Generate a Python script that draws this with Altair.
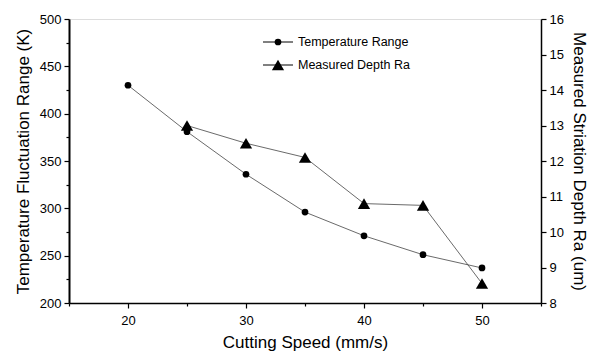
import altair as alt
import pandas as pd

speed = [20, 25, 30, 35, 40, 45, 50]
temp_range = [430, 381, 336, 296, 271, 251, 237]
speed_ra = [25, 30, 35, 40, 45, 50]
depth_ra = [13.0, 12.5, 12.1, 10.8, 10.75, 8.55]
legend_labels = ["Temperature Range", "Measured Depth Ra"]

FONT = "Liberation Sans"
df_t = pd.DataFrame({"speed": speed, "temp": temp_range})
df_r = pd.DataFrame({"speed": speed_ra, "ra": depth_ra})

x_enc = alt.X(
    "speed:Q",
    scale=alt.Scale(domain=[15, 55], nice=False, zero=False),
    axis=alt.Axis(
        title="Cutting Speed (mm/s)", format="d",
        values=list(range(15, 56, 5)),
        labelExpr="datum.value % 10 === 0 ? datum.label : ''",
        tickSize={"condition": {"test": "datum.value % 10 === 0", "value": 5}, "value": 3},
        grid=False, domainColor="black", domainWidth=1.5, tickColor="black", tickWidth=1.2,
        labelFontSize=13, titleFontSize=17, labelFont=FONT, titleFont=FONT,
        labelColor="black", titleColor="black", titleFontWeight="normal", titlePadding=7, labelPadding=6,
    ),
)

y_left = alt.Y(
    "temp:Q",
    scale=alt.Scale(domain=[200, 500], nice=False, zero=False),
    axis=alt.Axis(
        title="Temperature Fluctuation Range (K)", orient="left", format="d",
        values=list(range(200, 501, 25)),
        labelExpr="datum.value % 50 === 0 ? datum.label : ''",
        tickSize={"condition": {"test": "datum.value % 50 === 0", "value": 5}, "value": 3},
        grid=False, domainColor="black", domainWidth=2, tickColor="black", tickWidth=1.2,
        labelFontSize=13, titleFontSize=17, labelFont=FONT, titleFont=FONT,
        labelColor="black", titleColor="black", titleFontWeight="normal", titlePadding=7, labelPadding=3,
    ),
)

y_right = alt.Y(
    "ra:Q",
    scale=alt.Scale(domain=[8, 16], nice=False, zero=False),
    axis=alt.Axis(
        title="Measured Striation Depth Ra (um)", orient="right", format="d",
        values=[8 + 0.5 * i for i in range(17)],
        labelExpr="datum.value % 1 === 0 ? datum.label : ''",
        tickSize={"condition": {"test": "datum.value % 1 === 0", "value": 5}, "value": 3},
        grid=False, domainColor="black", domainWidth=1.5, tickColor="black", tickWidth=1.2,
        labelFontSize=13, titleFontSize=17, labelFont=FONT, titleFont=FONT,
        labelColor="black", titleColor="black", titleFontWeight="normal", titlePadding=6, labelPadding=3,
    ),
)

t_line = alt.Chart(df_t).mark_line(color="#444444", strokeWidth=0.8).encode(x=x_enc, y=y_left)
t_pts = alt.Chart(df_t).mark_point(shape="circle", filled=True, color="black", size=45, opacity=1).encode(x=x_enc, y=y_left)
left = alt.layer(t_line, t_pts)

r_line = alt.Chart(df_r).mark_line(color="#444444", strokeWidth=0.8).encode(x=x_enc, y=y_right)
r_pts = alt.Chart(df_r).mark_point(shape="triangle-up", filled=True, color="black", size=150, opacity=1).encode(x=x_enc, y=y_right)
right = alt.layer(r_line, r_pts)

leg_df = pd.DataFrame({"label": legend_labels})
leg_layers = []
for i, (lab, shape, sz) in enumerate(zip(legend_labels, ["circle", "triangle-up"], [45, 150])):
    yy = 23 + 23 * i
    d = leg_df[leg_df.label == lab]
    leg_layers.append(alt.Chart(d).mark_rule(color="black", strokeWidth=1).encode(
        x=alt.value(194), x2=alt.value(224), y=alt.value(yy)))
    leg_layers.append(alt.Chart(d).mark_point(shape=shape, filled=True, color="black", size=sz, opacity=1).encode(
        x=alt.value(209), y=alt.value(yy)))
    leg_layers.append(alt.Chart(d).mark_text(align="left", baseline="middle", fontSize=12.5, font=FONT, color="black").encode(
        x=alt.value(229), y=alt.value(yy), text="label:N"))

chart = alt.layer(left, right, *leg_layers).resolve_scale(y="independent").properties(
    width=472, height=284,
    autosize=alt.AutoSizeParams(type="none"),
    padding={"left": 69, "top": 19, "right": 52, "bottom": 49},
).configure_view(stroke="black", strokeWidth=1.5).configure(background="white")

chart.save("out.html", embed_options={"renderer": "svg", "actions": False})
